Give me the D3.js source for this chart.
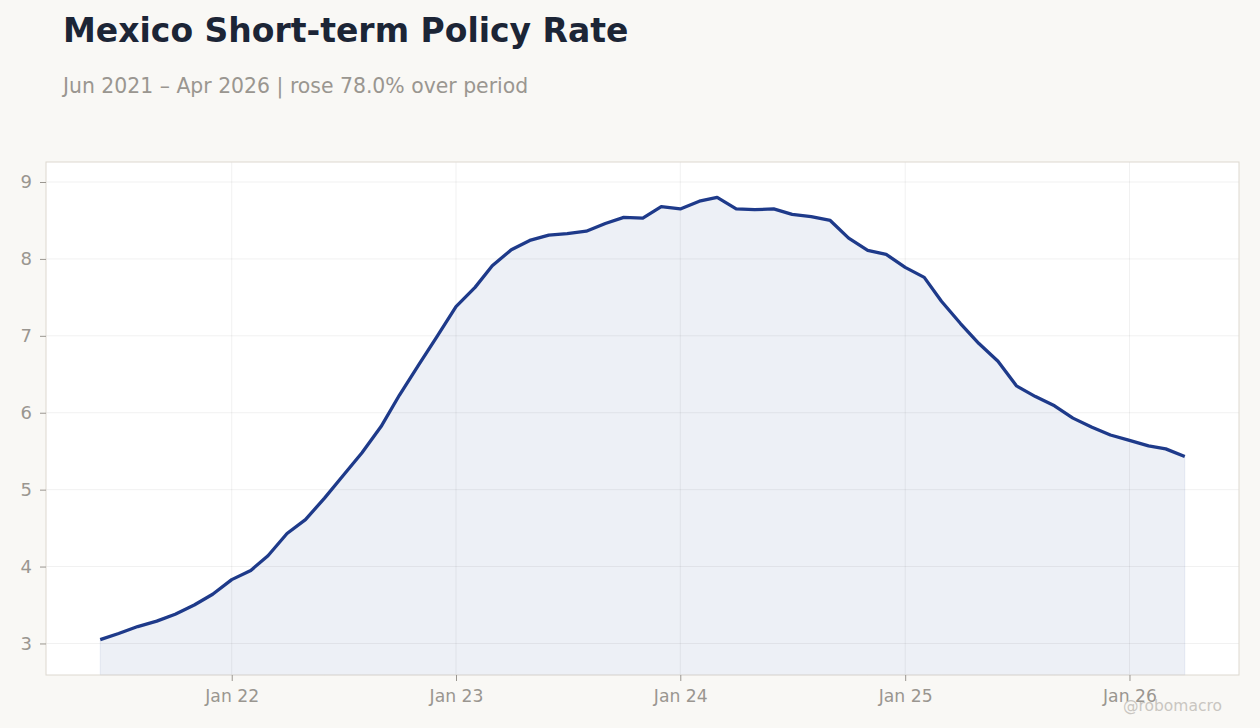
<!DOCTYPE html>
<html>
<head>
<meta charset="utf-8">
<script src="https://cdn.jsdelivr.net/npm/d3@7"></script>
<style>
  html, body { margin: 0; padding: 0; background: #f9f8f5; }
  svg { display: block; font-family: "DejaVu Sans", sans-serif; }
</style>
</head>
<body>
<svg id="chart" width="1260" height="728"></svg>
<script>
// monthly readings, Jun 2021 .. Apr 2026
const startMonth = "2021-06";
const rates = [
    3.05, 3.13, 3.22, 3.29, 3.38, 3.50, 3.64,
    3.83, 3.95, 4.14, 4.43, 4.61, 4.89, 5.18, 5.48, 5.82, 6.23, 6.62, 6.99,
    7.38, 7.63, 7.91, 8.12, 8.24, 8.31, 8.33, 8.36, 8.46, 8.54, 8.53, 8.68,
    8.65, 8.75, 8.80, 8.65, 8.64, 8.65, 8.58, 8.55, 8.50, 8.27, 8.11, 8.06,
    7.89, 7.76, 7.45, 7.16, 6.90, 6.67, 6.35, 6.21, 6.09, 5.93, 5.81, 5.71,
    5.64, 5.57, 5.53, 5.43
];
const yTicks = [3, 4, 5, 6, 7, 8, 9];
const xTickYears = [2022, 2023, 2024, 2025, 2026];

const parseMonth = d3.timeParse("%Y-%m");
const data = rates.map((v, i) => ({ date: d3.timeMonth.offset(parseMonth(startMonth), i), value: v }));

const svg = d3.select("#chart");
const margin = { top: 162, right: 21, bottom: 53, left: 46 };
const width = 1260 - margin.left - margin.right;
const height = 728 - margin.top - margin.bottom;

const first = data[0], last = data[data.length - 1];
const span = last.date - first.date;
const x = d3.scaleTime()
    .domain([new Date(+first.date - span * 0.05), new Date(+last.date + span * 0.05)])
    .range([0, width]);

const [vMin, vMax] = d3.extent(data, d => d.value);
const pad = (vMax - vMin) * 0.08;
const y = d3.scaleLinear()
    .domain([vMin - pad, vMax + pad])
    .range([height, 0]);

// titles
svg.append("text")
    .attr("x", 63).attr("y", 42)
    .attr("font-size", 33).attr("font-weight", "bold")
    .attr("fill", "#1c2536")
    .text("Mexico Short-term Policy Rate");

const change = (last.value / first.value - 1) * 100;
svg.append("text")
    .attr("x", 63).attr("y", 93)
    .attr("font-size", 20.4)
    .attr("fill", "#9a9690")
    .text(`Jun 2021 – Apr 2026 | rose ${change.toFixed(1)}% over period`);

const g = svg.append("g").attr("transform", `translate(${margin.left},${margin.top})`);

g.append("rect")
    .attr("width", width).attr("height", height)
    .attr("fill", "#fff");

// area under line
g.append("path")
    .datum(data)
    .attr("fill", "rgba(30,58,138,0.08)")
    .attr("stroke", "rgba(30,58,138,0.08)")
    .attr("stroke-width", 1)
    .attr("d", d3.area().x(d => x(d.date)).y0(height).y1(d => y(d.value)));

// grid
g.append("g")
    .selectAll("line")
    .data(yTicks)
    .enter().append("line")
    .attr("x1", 0).attr("x2", width)
    .attr("y1", d => y(d)).attr("y2", d => y(d))
    .attr("stroke", "#000").attr("stroke-opacity", 0.06);

const xTicks = xTickYears.map(yr => new Date(yr, 0, 1));
g.append("g")
    .selectAll("line")
    .data(xTicks)
    .enter().append("line")
    .attr("x1", d => x(d)).attr("x2", d => x(d))
    .attr("y1", 0).attr("y2", height)
    .attr("stroke", "#000").attr("stroke-opacity", 0.06);

// line
g.append("path")
    .datum(data)
    .attr("fill", "none")
    .attr("stroke", "#1e3a8a")
    .attr("stroke-width", 3.3)
    .attr("stroke-linejoin", "round")
    .attr("d", d3.line().x(d => x(d.date)).y(d => y(d.value)));

// frame
g.append("rect")
    .attr("width", width).attr("height", height)
    .attr("fill", "none")
    .attr("stroke", "#ddd8d0");

// axes
const yAxis = g.append("g")
    .call(d3.axisLeft(y).tickValues(yTicks).tickSize(6).tickPadding(8).tickFormat(d3.format("d")));
yAxis.select(".domain").remove();
yAxis.selectAll("line").attr("stroke", "#9a9690");
yAxis.selectAll("text").attr("font-size", 18).attr("fill", "#9a9690").attr("font-family", "DejaVu Sans, sans-serif");

const xAxis = g.append("g")
    .attr("transform", `translate(0,${height})`)
    .call(d3.axisBottom(x).tickValues(xTicks).tickSize(6).tickPadding(9).tickFormat(d3.timeFormat("Jan %y")));
xAxis.select(".domain").remove();
xAxis.selectAll("line").attr("stroke", "#9a9690");
xAxis.selectAll("text").attr("font-size", 17.2).attr("fill", "#9a9690").attr("font-family", "DejaVu Sans, sans-serif");

// watermark
svg.append("text")
    .attr("x", 1222).attr("y", 711)
    .attr("text-anchor", "end")
    .attr("font-size", 15.5)
    .attr("fill", "#c9c6c1")
    .text("@robomacro");
</script>
</body>
</html>
